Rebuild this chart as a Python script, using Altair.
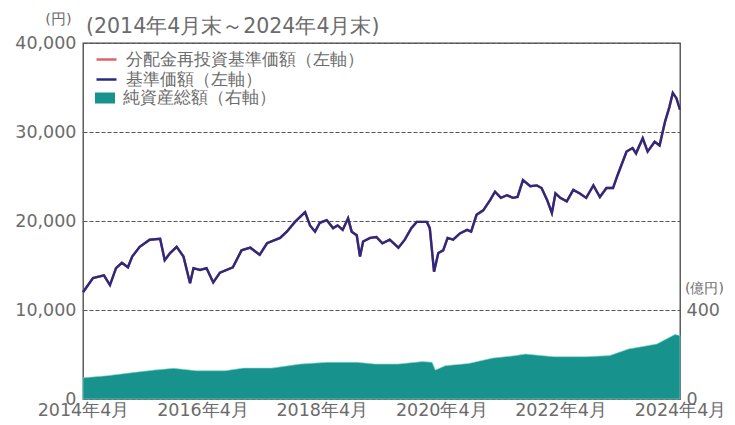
import altair as alt
import pandas as pd

# ---- data ----
nav_dates = [
    "2014-04-30", "2014-06-30", "2014-09-05", "2014-10-12", "2014-11-18", "2014-12-24",
    "2015-01-30", "2015-02-25", "2015-04-12", "2015-06-12", "2015-08-15", "2015-09-12",
    "2015-10-15", "2015-11-24", "2016-01-05", "2016-02-14", "2016-03-06", "2016-04-15",
    "2016-05-25", "2016-07-05", "2016-08-15", "2016-11-02", "2016-12-25", "2017-02-17",
    "2017-04-15", "2017-05-30", "2017-08-18", "2017-09-28", "2017-11-17", "2018-01-18",
    "2018-02-17", "2018-03-20", "2018-04-18", "2018-05-30", "2018-07-08", "2018-08-05",
    "2018-09-05", "2018-10-08", "2018-10-30", "2018-11-30", "2018-12-20", "2019-01-08",
    "2019-02-20", "2019-03-30", "2019-05-06", "2019-06-20", "2019-08-12", "2019-09-20",
    "2019-10-30", "2019-12-02", "2020-02-02", "2020-02-20", "2020-03-17", "2020-04-12",
    "2020-05-12", "2020-06-08", "2020-07-12", "2020-08-22", "2020-10-05", "2020-10-30",
    "2020-12-02", "2021-01-12", "2021-02-25", "2021-03-25", "2021-04-30", "2021-06-06",
    "2021-07-12", "2021-08-10", "2021-09-12", "2021-10-27", "2021-12-06", "2022-01-04",
    "2022-02-06", "2022-03-08", "2022-03-30", "2022-04-28", "2022-06-07", "2022-07-17",
    "2022-08-26", "2022-10-04", "2022-11-17", "2022-12-27", "2023-02-05", "2023-03-17",
    "2023-04-15", "2023-06-08", "2023-07-15", "2023-08-05", "2023-09-15", "2023-10-15",
    "2023-11-27", "2023-12-27", "2024-01-30", "2024-02-25", "2024-03-17", "2024-04-08",
    "2024-04-30",
]
nav_values = [
    12000, 13600, 13900, 12800, 14700, 15300,
    14800, 16000, 17100, 17900, 18000, 15600,
    16400, 17100, 16000, 13000, 14700, 14500,
    14700, 13100, 14200, 14800, 16700, 17000,
    16200, 17500, 18100, 18800, 19900, 21000,
    19500, 18800, 19800, 20100, 19200, 19500,
    19000, 20300, 18800, 18400, 16000, 17700,
    18100, 18200, 17500, 17900, 17000, 17900,
    19200, 19900, 19900, 19200, 14300, 16400,
    16700, 18100, 17900, 18600, 19000, 18800,
    20700, 21200, 22400, 23300, 22600, 22900,
    22600, 22700, 24600, 23900, 24000, 23700,
    22400, 20900, 23100, 22600, 22200, 23500,
    23100, 22600, 24000, 22700, 23700, 23700,
    25200, 27800, 28200, 27600, 29300, 27800,
    28900, 28500, 31200, 32800, 34400, 33800,
    32500,
]
# dividend-reinvested NAV coincides with NAV (no distributions)
reinv_values = list(nav_values)

aum_dates = [
    "2014-04-30", "2014-09-27", "2015-03-15", "2015-07-12", "2015-11-05", "2016-03-25",
    "2016-09-15", "2017-01-07", "2017-06-30", "2017-12-20", "2018-06-05", "2018-11-30",
    "2019-03-22", "2019-08-12", "2020-01-05", "2020-03-05", "2020-03-25", "2020-05-25",
    "2020-10-15", "2021-03-12", "2021-07-30", "2021-09-27", "2022-03-20", "2022-10-05",
    "2023-02-25", "2023-06-20", "2023-12-10", "2024-03-30", "2024-04-30",
]
aum_values = [
    95, 105, 120, 130, 138, 127,
    127, 139, 139, 157, 165, 165,
    157, 157, 168, 165, 130, 150,
    160, 184, 195, 202, 190, 190,
    195, 225, 247, 290, 285,
]

tick_years = [2014, 2016, 2018, 2020, 2022, 2024]
left_ticks = [0, 10000, 20000, 30000, 40000]
right_ticks = [0, 400]

SER_REINV = "分配金再投資基準価額（左軸）"
SER_NAV = "基準価額（左軸）"
SER_AUM = "純資産総額（右軸）"

FONT = "DejaVu Sans"
TXT = "#6b6b6b"
NAVY = "#2c2a7c"
RED = "#e2606c"
TEAL = "#17928c"

reinv_df = pd.DataFrame({"date": nav_dates, "value": reinv_values, "series": SER_REINV})
nav_df = pd.DataFrame({"date": nav_dates, "value": nav_values, "series": SER_NAV})
aum_df = pd.DataFrame({"date": aum_dates, "value": aum_values, "series": SER_AUM})

x_enc = alt.X(
    "date:T",
    scale=alt.Scale(domain=[alt.DateTime(year=2014, month=4, date=30, utc=True),
                            alt.DateTime(year=2024, month=4, date=30, utc=True)]),
    axis=alt.Axis(
        values=[alt.DateTime(year=y, month=4, date=30, utc=True) for y in tick_years],
        labelExpr="utcFormat(datum.value, '%Y') + '年4月'",
        title=None, grid=False, domain=False, ticks=False,
        labelFontSize=17.5, labelPadding=2, labelColor=TXT, labelFont=FONT,
        labelOverlap=False, labelFlush=False,
    ),
)

color_scale = alt.Scale(domain=[SER_REINV, SER_NAV], range=[RED, NAVY])
line_legend = alt.Legend(
    orient="none", legendX=12, legendY=5, title=None,
    symbolType="stroke", symbolSize=400, symbolStrokeWidth=2.5,
    labelFontSize=16.5, labelFont=FONT, labelColor=TXT, labelOffset=8,
    labelLimit=400, rowPadding=0, padding=0,
)

left_y = alt.Y(
    "value:Q",
    scale=alt.Scale(domain=[0, 40000], nice=False),
    axis=alt.Axis(
        orient="left", values=left_ticks, format=",d", title="(円)",
        titleAngle=0, titleX=-25, titleY=-24, titleAlign="center", titleBaseline="middle",
        titleFontSize=14.5, titleFont=FONT, titleColor=TXT, titleFontWeight="normal",
        grid=True, gridDash=[4, 2], gridColor="#555555", gridWidth=1.1,
        domain=False, ticks=False, labelPadding=7,
        labelFontSize=17.5, labelColor=TXT, labelFont=FONT,
    ),
)

area = alt.Chart(aum_df).mark_area(stroke="#7fd6d0", strokeWidth=0.8, strokeOpacity=0.8).encode(
    x=x_enc,
    y=alt.Y(
        "value:Q",
        scale=alt.Scale(domain=[0, 1600], nice=False),
        axis=alt.Axis(
            orient="right", values=right_ticks, title="(億円)",
            titleAngle=0, titleX=24, titleY=245, titleAlign="center", titleBaseline="middle",
            titleFontSize=14, titleFont=FONT, titleColor=TXT, titleFontWeight="normal",
            grid=False, domain=False, ticks=False, labelPadding=6,
            labelFontSize=17.5, labelColor=TXT, labelFont=FONT,
        ),
    ),
    fill=alt.Fill(
        "series:N",
        scale=alt.Scale(domain=[SER_AUM], range=[TEAL]),
        legend=alt.Legend(
            orient="none", legendX=12, legendY=45, title=None,
            symbolType="M-1,-0.55H1V0.55H-1Z", symbolSize=400, symbolStrokeWidth=0,
            symbolOpacity=1, labelLimit=400,
            labelFontSize=16.5, labelFont=FONT, labelColor=TXT, labelOffset=8,
            padding=0,
        ),
    ),
)

reinv_line = alt.Chart(reinv_df).mark_line(strokeWidth=2.4).encode(
    x=x_enc, y=left_y,
    color=alt.Color("series:N", scale=color_scale, legend=line_legend),
)
nav_line = alt.Chart(nav_df).mark_line(strokeWidth=2.4).encode(
    x=x_enc, y=left_y,
    color=alt.Color("series:N", scale=color_scale, legend=line_legend),
)

lines = alt.layer(reinv_line, nav_line)

chart = (
    alt.layer(area, lines)
    .resolve_scale(y="independent")
    .properties(
        width=597,
        height=356,
        autosize=alt.AutoSizeParams(type="none"),
        padding={"left": 75, "top": 35, "right": 47, "bottom": 22},
        title=alt.TitleParams(
            "(2014年4月末～2024年4月末)", anchor="start", frame="group", dx=3, offset=-26,
            fontSize=20.5, font=FONT, color=TXT, fontWeight="normal",
        ),
    )
    .configure_view(stroke="#444444", strokeWidth=1.3)
)

chart.save("out.html", embed_options={"renderer": "svg", "actions": False})
